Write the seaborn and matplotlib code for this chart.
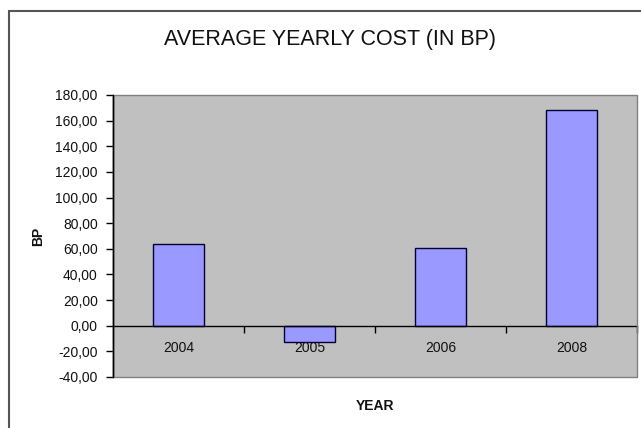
import matplotlib
matplotlib.use("Agg")
import matplotlib.pyplot as plt
from matplotlib.patches import Rectangle
from matplotlib.ticker import FixedLocator, FuncFormatter
import seaborn as sns
import pandas as pd

# Average yearly cost per year, in basis points
years = ["2004", "2005", "2006", "2008"]
cost_bp = [64.0, -13.0, 61.0, 168.0]
y_ticks = [-40, -20, 0, 20, 40, 60, 80, 100, 120, 140, 160, 180]

title = "AVERAGE YEARLY COST (IN BP)"
x_label = "YEAR"
y_label = "BP"

sns.set_theme(style="white")
plt.rcParams["font.family"] = ["Liberation Sans", "DejaVu Sans"]

W, H = 641, 428
fig = plt.figure(figsize=(W / 100, H / 100), dpi=100)
fig.patch.set_facecolor("white")

# axes placed in pixel terms: left 113, right 637, top 95, bottom 377
ax = fig.add_axes([113 / W, 1 - 377 / H, (637 - 113) / W, (377 - 95) / H])
ax.set_facecolor("#C0C0C0")

df = pd.DataFrame({"year": years, "cost": cost_bp})
sns.barplot(data=df, x="year", y="cost", order=years, color="#9999FF",
            saturation=1, width=0.39, edgecolor="#000033", linewidth=1.0, ax=ax)

ax.set_ylim(-40, 180)
ax.set_xlim(-0.5, len(years) - 0.5)
ax.set_yticks(y_ticks)
ax.yaxis.set_major_formatter(FuncFormatter(lambda v, p: f"{v:.2f}".replace(".", ",")))
ax.tick_params(axis="y", which="major", left=True, length=5, width=1,
               color="#000000", pad=6, labelsize=10, labelcolor="#111111")

# category axis runs along the zero line
for side in ["top", "right", "left", "bottom"]:
    ax.spines[side].set_visible(False)
ax.spines["bottom"].set_visible(True)
ax.spines["bottom"].set_position(("data", 0))
ax.spines["bottom"].set_color("#000000")
ax.spines["bottom"].set_linewidth(1.0)
ax.spines["left"].set_visible(True)
ax.spines["left"].set_color("#000000")
ax.spines["left"].set_linewidth(1.0)

ax.xaxis.set_minor_locator(FixedLocator([0.5, 1.5, 2.5, 3.5]))
ax.tick_params(axis="x", which="minor", bottom=True, length=5, width=1, color="#000000")
ax.tick_params(axis="x", which="major", bottom=True, length=0, pad=11,
               labelsize=10, labelcolor="#111111")

# plot-area frame
ax.add_patch(Rectangle((0, 0), 1, 1, transform=ax.transAxes, fill=False,
                       edgecolor="#808080", linewidth=1.0, clip_on=False, zorder=5))
ax.plot([0, 0], [0, 1], transform=ax.transAxes, color="#000000", lw=1.0,
        clip_on=False, zorder=6)

ax.set_xlabel(x_label, fontsize=10, fontweight="bold", color="#111111")
ax.set_ylabel(y_label, fontsize=10, fontweight="bold", color="#111111")
ax.xaxis.set_label_coords(0.5, -0.078)
ax.yaxis.set_label_coords(-68 / 524, 0.5)

fig.text(330 / W, 1 - 40 / H, title, ha="center", va="center",
         fontsize=15.5, color="#111111")

# outer chart border
fig.patches.append(Rectangle((9 / W, -0.05), 1.1, 1.05 - 11 / H,
                             transform=fig.transFigure, fill=False,
                             edgecolor="#555555", linewidth=1.5, zorder=0))

fig.savefig("out.png", dpi=100, facecolor="white")
